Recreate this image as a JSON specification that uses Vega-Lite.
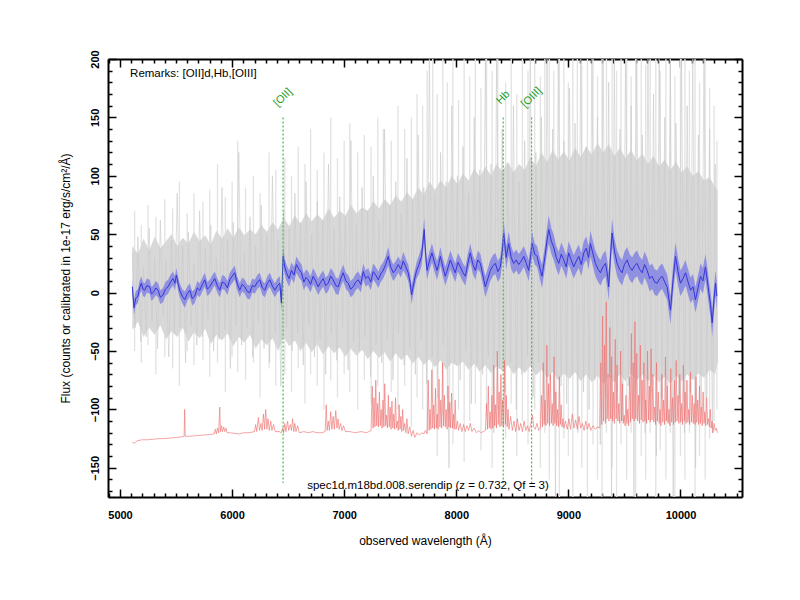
{
"$schema": "https://vega.github.io/schema/vega-lite/v6.json",
"width": 634, "height": 438,
"autosize": {"type": "none"},
"padding": {"left": 108, "top": 59, "right": 58, "bottom": 103},
"background": "white",
"config": {"view": {"stroke": null}, "font": "Liberation Sans"},
"datasets": {
"spikes": [{"w":5130,"lo":-50,"hi":70},{"w":5190,"lo":-60,"hi":58},{"w":5250,"lo":-45,"hi":75},{"w":5320,"lo":-70,"hi":65},{"w":5400,"lo":-55,"hi":80},{"w":5470,"lo":-65,"hi":72},{"w":5530,"lo":-80,"hi":95},{"w":5600,"lo":-50,"hi":68},{"w":5660,"lo":-62,"hi":85},{"w":5740,"lo":-58,"hi":78},{"w":5800,"lo":-72,"hi":88},{"w":5870,"lo":-60,"hi":110},{"w":5940,"lo":-85,"hi":82},{"w":6000,"lo":-55,"hi":95},{"w":6050,"lo":-68,"hi":130},{"w":6120,"lo":-75,"hi":90},{"w":6190,"lo":-60,"hi":100},{"w":6250,"lo":-90,"hi":85},{"w":6330,"lo":-65,"hi":120},{"w":6390,"lo":-80,"hi":105},{"w":6470,"lo":-70,"hi":115},{"w":6530,"lo":-85,"hi":100},{"w":6590,"lo":-65,"hi":125},{"w":6650,"lo":-95,"hi":110},{"w":6700,"lo":-70,"hi":140},{"w":6760,"lo":-80,"hi":105},{"w":6820,"lo":-100,"hi":120},{"w":6880,"lo":-75,"hi":150},{"w":6940,"lo":-90,"hi":115},{"w":7000,"lo":-70,"hi":130},{"w":7050,"lo":-85,"hi":145},{"w":7120,"lo":-100,"hi":120},{"w":7180,"lo":-75,"hi":135},{"w":7240,"lo":-95,"hi":125},{"w":7300,"lo":-80,"hi":150},{"w":7350,"lo":-110,"hi":140},{"w":7420,"lo":-85,"hi":130},{"w":7480,"lo":-100,"hi":160},{"w":7540,"lo":-80,"hi":140},{"w":7600,"lo":-115,"hi":150},{"w":7650,"lo":-90,"hi":170},{"w":7700,"lo":-100,"hi":160},{"w":7740,"lo":-120,"hi":190},{"w":7790,"lo":-95,"hi":200},{"w":7830,"lo":-140,"hi":170},{"w":7880,"lo":-105,"hi":200},{"w":7920,"lo":-90,"hi":180},{"w":7970,"lo":-130,"hi":200},{"w":8020,"lo":-100,"hi":165},{"w":8070,"lo":-145,"hi":200},{"w":8120,"lo":-110,"hi":185},{"w":8170,"lo":-95,"hi":200},{"w":8220,"lo":-135,"hi":175},{"w":8270,"lo":-105,"hi":200},{"w":8320,"lo":-150,"hi":190},{"w":8370,"lo":-100,"hi":200},{"w":8440,"lo":-125,"hi":180},{"w":8490,"lo":-95,"hi":200},{"w":8540,"lo":-140,"hi":170},{"w":8590,"lo":-110,"hi":200},{"w":8640,"lo":-130,"hi":190},{"w":8700,"lo":-100,"hi":200},{"w":8750,"lo":-150,"hi":185},{"w":8790,"lo":-120,"hi":200},{"w":8830,"lo":-160,"hi":200},{"w":8870,"lo":-110,"hi":190},{"w":8920,"lo":-175,"hi":200},{"w":8960,"lo":-125,"hi":200},{"w":9000,"lo":-140,"hi":180},{"w":9040,"lo":-175,"hi":200},{"w":9080,"lo":-115,"hi":200},{"w":9120,"lo":-150,"hi":195},{"w":9170,"lo":-175,"hi":200},{"w":9220,"lo":-130,"hi":200},{"w":9260,"lo":-160,"hi":185},{"w":9300,"lo":-175,"hi":200},{"w":9340,"lo":-120,"hi":200},{"w":9390,"lo":-150,"hi":200},{"w":9430,"lo":-175,"hi":190},{"w":9470,"lo":-130,"hi":200},{"w":9520,"lo":-160,"hi":200},{"w":9560,"lo":-120,"hi":185},{"w":9600,"lo":-175,"hi":200},{"w":9650,"lo":-140,"hi":200},{"w":9690,"lo":-160,"hi":195},{"w":9730,"lo":-120,"hi":200},{"w":9780,"lo":-175,"hi":200},{"w":9820,"lo":-135,"hi":190},{"w":9870,"lo":-160,"hi":200},{"w":9910,"lo":-120,"hi":200},{"w":9950,"lo":-175,"hi":185},{"w":10000,"lo":-140,"hi":200},{"w":10040,"lo":-160,"hi":200},{"w":10080,"lo":-120,"hi":190},{"w":10130,"lo":-175,"hi":200},{"w":10170,"lo":-140,"hi":180},{"w":10220,"lo":-160,"hi":200},{"w":10260,"lo":-125,"hi":175},{"w":10300,"lo":-110,"hi":160},{"w":10325,"lo":-100,"hi":130}],
"core": [{"w":5110,"lo":-32,"hi":40},{"w":5160,"lo":-25,"hi":33},{"w":5210,"lo":-38,"hi":46},{"w":5260,"lo":-30,"hi":36},{"w":5310,"lo":-36,"hi":48},{"w":5360,"lo":-28,"hi":38},{"w":5410,"lo":-40,"hi":44},{"w":5460,"lo":-33,"hi":50},{"w":5510,"lo":-38,"hi":40},{"w":5560,"lo":-30,"hi":47},{"w":5610,"lo":-42,"hi":42},{"w":5660,"lo":-34,"hi":52},{"w":5710,"lo":-39,"hi":44},{"w":5760,"lo":-31,"hi":49},{"w":5810,"lo":-44,"hi":41},{"w":5860,"lo":-36,"hi":53},{"w":5910,"lo":-41,"hi":46},{"w":5960,"lo":-35,"hi":55},{"w":6010,"lo":-46,"hi":47},{"w":6060,"lo":-38,"hi":56},{"w":6110,"lo":-43,"hi":49},{"w":6160,"lo":-36,"hi":54},{"w":6210,"lo":-48,"hi":50},{"w":6260,"lo":-40,"hi":58},{"w":6310,"lo":-45,"hi":52},{"w":6360,"lo":-39,"hi":60},{"w":6410,"lo":-50,"hi":54},{"w":6460,"lo":-38,"hi":64},{"w":6510,"lo":-46,"hi":57},{"w":6560,"lo":-41,"hi":66},{"w":6610,"lo":-50,"hi":59},{"w":6660,"lo":-43,"hi":68},{"w":6710,"lo":-51,"hi":61},{"w":6760,"lo":-44,"hi":67},{"w":6810,"lo":-53,"hi":62},{"w":6860,"lo":-46,"hi":72},{"w":6910,"lo":-52,"hi":64},{"w":6960,"lo":-47,"hi":70},{"w":7010,"lo":-55,"hi":66},{"w":7060,"lo":-48,"hi":75},{"w":7110,"lo":-54,"hi":68},{"w":7160,"lo":-49,"hi":73},{"w":7210,"lo":-57,"hi":70},{"w":7260,"lo":-50,"hi":78},{"w":7310,"lo":-56,"hi":72},{"w":7360,"lo":-51,"hi":80},{"w":7410,"lo":-59,"hi":75},{"w":7460,"lo":-52,"hi":83},{"w":7510,"lo":-58,"hi":78},{"w":7560,"lo":-53,"hi":86},{"w":7610,"lo":-61,"hi":80},{"w":7660,"lo":-55,"hi":90},{"w":7710,"lo":-62,"hi":84},{"w":7760,"lo":-57,"hi":95},{"w":7810,"lo":-64,"hi":88},{"w":7860,"lo":-58,"hi":96},{"w":7910,"lo":-66,"hi":90},{"w":7960,"lo":-60,"hi":100},{"w":8010,"lo":-63,"hi":93},{"w":8060,"lo":-59,"hi":102},{"w":8110,"lo":-66,"hi":96},{"w":8160,"lo":-61,"hi":106},{"w":8210,"lo":-68,"hi":99},{"w":8260,"lo":-62,"hi":108},{"w":8310,"lo":-69,"hi":100},{"w":8360,"lo":-63,"hi":110},{"w":8410,"lo":-67,"hi":104},{"w":8460,"lo":-62,"hi":112},{"w":8510,"lo":-70,"hi":103},{"w":8560,"lo":-64,"hi":110},{"w":8610,"lo":-69,"hi":105},{"w":8660,"lo":-63,"hi":116},{"w":8710,"lo":-71,"hi":108},{"w":8760,"lo":-66,"hi":120},{"w":8810,"lo":-73,"hi":112},{"w":8860,"lo":-68,"hi":122},{"w":8910,"lo":-75,"hi":114},{"w":8960,"lo":-69,"hi":121},{"w":9010,"lo":-74,"hi":113},{"w":9060,"lo":-68,"hi":124},{"w":9110,"lo":-76,"hi":116},{"w":9160,"lo":-70,"hi":125},{"w":9210,"lo":-77,"hi":118},{"w":9260,"lo":-71,"hi":128},{"w":9310,"lo":-78,"hi":120},{"w":9360,"lo":-72,"hi":127},{"w":9410,"lo":-77,"hi":117},{"w":9460,"lo":-70,"hi":124},{"w":9510,"lo":-76,"hi":115},{"w":9560,"lo":-69,"hi":122},{"w":9610,"lo":-75,"hi":113},{"w":9660,"lo":-70,"hi":119},{"w":9710,"lo":-76,"hi":110},{"w":9760,"lo":-71,"hi":117},{"w":9810,"lo":-77,"hi":108},{"w":9860,"lo":-72,"hi":114},{"w":9910,"lo":-78,"hi":105},{"w":9960,"lo":-71,"hi":112},{"w":10010,"lo":-76,"hi":103},{"w":10060,"lo":-70,"hi":108},{"w":10110,"lo":-75,"hi":100},{"w":10160,"lo":-69,"hi":104},{"w":10210,"lo":-73,"hi":96},{"w":10260,"lo":-66,"hi":99},{"w":10310,"lo":-70,"hi":90},{"w":10330,"lo":-60,"hi":88}],
"gray": [{"w":5110,"f":35},{"w":5135,"f":-30},{"w":5160,"f":48},{"w":5185,"f":-42},{"w":5210,"f":22},{"w":5235,"f":-38},{"w":5260,"f":55},{"w":5285,"f":-25},{"w":5310,"f":30},{"w":5335,"f":-48},{"w":5360,"f":62},{"w":5385,"f":-20},{"w":5410,"f":28},{"w":5435,"f":-55},{"w":5460,"f":45},{"w":5485,"f":-35},{"w":5510,"f":85},{"w":5535,"f":-30},{"w":5560,"f":40},{"w":5585,"f":-60},{"w":5610,"f":52},{"w":5635,"f":-28},{"w":5660,"f":25},{"w":5685,"f":-45},{"w":5710,"f":70},{"w":5735,"f":-38},{"w":5760,"f":38},{"w":5785,"f":-22},{"w":5810,"f":58},{"w":5835,"f":-50},{"w":5860,"f":30},{"w":5885,"f":-40},{"w":5910,"f":90},{"w":5935,"f":-32},{"w":5960,"f":45},{"w":5985,"f":-65},{"w":6010,"f":60},{"w":6035,"f":-28},{"w":6060,"f":120},{"w":6085,"f":-45},{"w":6110,"f":35},{"w":6135,"f":-30},{"w":6160,"f":65},{"w":6185,"f":-55},{"w":6210,"f":40},{"w":6235,"f":-25},{"w":6260,"f":75},{"w":6285,"f":-48},{"w":6310,"f":50},{"w":6335,"f":-60},{"w":6360,"f":100},{"w":6385,"f":-35},{"w":6410,"f":45},{"w":6435,"f":-80},{"w":6460,"f":70},{"w":6485,"f":-30},{"w":6510,"f":55},{"w":6535,"f":-50},{"w":6560,"f":85},{"w":6585,"f":-35},{"w":6610,"f":60},{"w":6635,"f":-62},{"w":6660,"f":95},{"w":6685,"f":-28},{"w":6710,"f":50},{"w":6735,"f":-55},{"w":6760,"f":78},{"w":6785,"f":-40},{"w":6810,"f":62},{"w":6835,"f":-70},{"w":6860,"f":110},{"w":6885,"f":-35},{"w":6910,"f":55},{"w":6935,"f":-58},{"w":6960,"f":82},{"w":6985,"f":-30},{"w":7010,"f":65},{"w":7035,"f":-66},{"w":7060,"f":130},{"w":7085,"f":-42},{"w":7110,"f":58},{"w":7135,"f":-50},{"w":7160,"f":90},{"w":7185,"f":-38},{"w":7210,"f":70},{"w":7235,"f":-72},{"w":7260,"f":100},{"w":7285,"f":-45},{"w":7310,"f":60},{"w":7335,"f":-60},{"w":7360,"f":140},{"w":7385,"f":-40},{"w":7410,"f":75},{"w":7435,"f":-75},{"w":7460,"f":95},{"w":7485,"f":-35},{"w":7510,"f":68},{"w":7535,"f":-62},{"w":7560,"f":115},{"w":7585,"f":-48},{"w":7610,"f":80},{"w":7635,"f":-70},{"w":7660,"f":135},{"w":7685,"f":-40},{"w":7710,"f":90},{"w":7735,"f":-78},{"w":7760,"f":200},{"w":7785,"f":-55},{"w":7810,"f":85},{"w":7835,"f":-90},{"w":7860,"f":120},{"w":7885,"f":-45},{"w":7910,"f":95},{"w":7935,"f":-150},{"w":7960,"f":160},{"w":7985,"f":-60},{"w":8010,"f":100},{"w":8035,"f":-75},{"w":8060,"f":125},{"w":8085,"f":-50},{"w":8110,"f":85},{"w":8135,"f":-95},{"w":8160,"f":150},{"w":8185,"f":-62},{"w":8210,"f":105},{"w":8235,"f":-70},{"w":8260,"f":200},{"w":8285,"f":-55},{"w":8310,"f":110},{"w":8335,"f":-120},{"w":8360,"f":200},{"w":8385,"f":-65},{"w":8410,"f":140},{"w":8435,"f":-85},{"w":8460,"f":110},{"w":8485,"f":-60},{"w":8510,"f":160},{"w":8535,"f":-100},{"w":8560,"f":95},{"w":8585,"f":-70},{"w":8610,"f":130},{"w":8635,"f":-55},{"w":8660,"f":200},{"w":8685,"f":-90},{"w":8710,"f":120},{"w":8735,"f":-60},{"w":8760,"f":150},{"w":8785,"f":-110},{"w":8810,"f":200},{"w":8835,"f":-75},{"w":8860,"f":140},{"w":8885,"f":-175},{"w":8910,"f":200},{"w":8935,"f":-80},{"w":8960,"f":130},{"w":8985,"f":-95},{"w":9010,"f":175},{"w":9035,"f":-70},{"w":9060,"f":145},{"w":9085,"f":-120},{"w":9110,"f":200},{"w":9135,"f":-85},{"w":9160,"f":125},{"w":9185,"f":-100},{"w":9210,"f":200},{"w":9235,"f":-75},{"w":9260,"f":150},{"w":9285,"f":-130},{"w":9310,"f":200},{"w":9335,"f":-90},{"w":9360,"f":180},{"w":9385,"f":-175},{"w":9410,"f":200},{"w":9435,"f":-85},{"w":9460,"f":140},{"w":9485,"f":-110},{"w":9510,"f":200},{"w":9535,"f":-80},{"w":9560,"f":160},{"w":9585,"f":-175},{"w":9610,"f":200},{"w":9635,"f":-95},{"w":9660,"f":135},{"w":9685,"f":-120},{"w":9710,"f":200},{"w":9735,"f":-85},{"w":9760,"f":170},{"w":9785,"f":-140},{"w":9810,"f":200},{"w":9835,"f":-90},{"w":9860,"f":150},{"w":9885,"f":-110},{"w":9910,"f":200},{"w":9935,"f":-175},{"w":9960,"f":145},{"w":9985,"f":-95},{"w":10010,"f":200},{"w":10035,"f":-120},{"w":10060,"f":160},{"w":10085,"f":-85},{"w":10110,"f":200},{"w":10135,"f":-150},{"w":10160,"f":135},{"w":10185,"f":-100},{"w":10210,"f":200},{"w":10235,"f":-90},{"w":10260,"f":140},{"w":10285,"f":-120},{"w":10310,"f":110},{"w":10330,"f":-60}],
"blue": [{"w":5110,"f":5,"lo":-2,"hi":11},{"w":5125,"f":-13,"lo":-19,"hi":-6},{"w":5140,"f":-5,"lo":-11,"hi":1},{"w":5160,"f":-3,"lo":-9,"hi":3},{"w":5175,"f":4,"lo":-2,"hi":10},{"w":5190,"f":8,"lo":2,"hi":14},{"w":5205,"f":3,"lo":-3,"hi":9},{"w":5220,"f":2,"lo":-4,"hi":8},{"w":5240,"f":6,"lo":0,"hi":12},{"w":5265,"f":5,"lo":-1,"hi":11},{"w":5280,"f":-1,"lo":-7,"hi":5},{"w":5295,"f":0,"lo":-6,"hi":6},{"w":5320,"f":4,"lo":-2,"hi":10},{"w":5340,"f":2,"lo":-4,"hi":8},{"w":5360,"f":-4,"lo":-10,"hi":2},{"w":5384,"f":-2,"lo":-8,"hi":4},{"w":5405,"f":3,"lo":-3,"hi":9},{"w":5429,"f":5,"lo":-1,"hi":11},{"w":5450,"f":9,"lo":3,"hi":15},{"w":5473,"f":12,"lo":6,"hi":18},{"w":5490,"f":8,"lo":2,"hi":14},{"w":5503,"f":15,"lo":9,"hi":21},{"w":5520,"f":7,"lo":1,"hi":13},{"w":5533,"f":2,"lo":-4,"hi":8},{"w":5555,"f":-3,"lo":-9,"hi":3},{"w":5578,"f":-6,"lo":-13,"hi":1},{"w":5600,"f":-1,"lo":-7,"hi":5},{"w":5622,"f":2,"lo":-4,"hi":8},{"w":5645,"f":-5,"lo":-11,"hi":1},{"w":5667,"f":-3,"lo":-9,"hi":3},{"w":5690,"f":4,"lo":-2,"hi":10},{"w":5711,"f":2,"lo":-4,"hi":8},{"w":5735,"f":7,"lo":1,"hi":13},{"w":5756,"f":11,"lo":5,"hi":17},{"w":5780,"f":3,"lo":-3,"hi":9},{"w":5801,"f":5,"lo":-1,"hi":11},{"w":5825,"f":9,"lo":3,"hi":15},{"w":5845,"f":12,"lo":6,"hi":18},{"w":5868,"f":6,"lo":0,"hi":12},{"w":5890,"f":2,"lo":-4,"hi":8},{"w":5912,"f":9,"lo":3,"hi":15},{"w":5935,"f":8,"lo":2,"hi":14},{"w":5958,"f":4,"lo":-2,"hi":10},{"w":5979,"f":11,"lo":5,"hi":17},{"w":6000,"f":14,"lo":8,"hi":20},{"w":6024,"f":17,"lo":11,"hi":23},{"w":6045,"f":8,"lo":2,"hi":14},{"w":6068,"f":2,"lo":-4,"hi":8},{"w":6090,"f":7,"lo":1,"hi":13},{"w":6113,"f":5,"lo":-1,"hi":11},{"w":6135,"f":1,"lo":-5,"hi":7},{"w":6158,"f":0,"lo":-6,"hi":6},{"w":6180,"f":6,"lo":0,"hi":12},{"w":6202,"f":5,"lo":-1,"hi":11},{"w":6225,"f":9,"lo":3,"hi":15},{"w":6247,"f":11,"lo":5,"hi":17},{"w":6270,"f":4,"lo":-2,"hi":10},{"w":6292,"f":2,"lo":-4,"hi":8},{"w":6315,"f":8,"lo":2,"hi":14},{"w":6336,"f":11,"lo":5,"hi":17},{"w":6358,"f":6,"lo":0,"hi":12},{"w":6381,"f":2,"lo":-4,"hi":8},{"w":6405,"f":6,"lo":0,"hi":12},{"w":6426,"f":8,"lo":2,"hi":14},{"w":6440,"f":-9,"lo":-16,"hi":-2},{"w":6455,"f":31,"lo":23,"hi":39},{"w":6470,"f":22,"lo":15,"hi":29},{"w":6485,"f":17,"lo":10,"hi":24},{"w":6508,"f":12,"lo":5,"hi":19},{"w":6530,"f":19,"lo":12,"hi":26},{"w":6552,"f":15,"lo":8,"hi":22},{"w":6574,"f":24,"lo":17,"hi":31},{"w":6596,"f":20,"lo":13,"hi":27},{"w":6619,"f":17,"lo":10,"hi":24},{"w":6640,"f":9,"lo":2,"hi":16},{"w":6660,"f":13,"lo":6,"hi":20},{"w":6679,"f":11,"lo":4,"hi":18},{"w":6700,"f":7,"lo":0,"hi":14},{"w":6723,"f":14,"lo":7,"hi":21},{"w":6745,"f":10,"lo":3,"hi":17},{"w":6768,"f":5,"lo":-2,"hi":12},{"w":6790,"f":9,"lo":2,"hi":16},{"w":6813,"f":12,"lo":5,"hi":19},{"w":6835,"f":6,"lo":-1,"hi":13},{"w":6857,"f":8,"lo":1,"hi":15},{"w":6880,"f":14,"lo":7,"hi":21},{"w":6902,"f":11,"lo":4,"hi":18},{"w":6925,"f":6,"lo":-1,"hi":13},{"w":6947,"f":5,"lo":-2,"hi":12},{"w":6970,"f":12,"lo":5,"hi":19},{"w":6991,"f":17,"lo":10,"hi":24},{"w":7015,"f":10,"lo":3,"hi":17},{"w":7036,"f":8,"lo":1,"hi":15},{"w":7058,"f":3,"lo":-4,"hi":10},{"w":7080,"f":5,"lo":-2,"hi":12},{"w":7103,"f":9,"lo":2,"hi":16},{"w":7125,"f":11,"lo":4,"hi":18},{"w":7148,"f":7,"lo":0,"hi":14},{"w":7170,"f":18,"lo":11,"hi":25},{"w":7192,"f":12,"lo":5,"hi":19},{"w":7214,"f":14,"lo":7,"hi":21},{"w":7237,"f":9,"lo":2,"hi":16},{"w":7259,"f":18,"lo":11,"hi":25},{"w":7282,"f":15,"lo":8,"hi":22},{"w":7304,"f":11,"lo":4,"hi":18},{"w":7326,"f":16,"lo":9,"hi":23},{"w":7348,"f":19,"lo":12,"hi":26},{"w":7370,"f":24,"lo":17,"hi":31},{"w":7393,"f":31,"lo":23,"hi":39},{"w":7415,"f":22,"lo":15,"hi":29},{"w":7438,"f":17,"lo":10,"hi":24},{"w":7460,"f":20,"lo":13,"hi":27},{"w":7482,"f":24,"lo":17,"hi":31},{"w":7505,"f":20,"lo":13,"hi":27},{"w":7527,"f":27,"lo":19,"hi":35},{"w":7550,"f":22,"lo":15,"hi":29},{"w":7571,"f":17,"lo":10,"hi":24},{"w":7590,"f":8,"lo":1,"hi":15},{"w":7601,"f":-2,"lo":-10,"hi":6},{"w":7625,"f":10,"lo":3,"hi":17},{"w":7646,"f":19,"lo":12,"hi":26},{"w":7668,"f":24,"lo":16,"hi":32},{"w":7690,"f":31,"lo":23,"hi":39},{"w":7714,"f":54,"lo":44,"hi":64},{"w":7725,"f":35,"lo":26,"hi":44},{"w":7739,"f":19,"lo":11,"hi":27},{"w":7760,"f":27,"lo":19,"hi":35},{"w":7783,"f":34,"lo":26,"hi":42},{"w":7805,"f":26,"lo":18,"hi":34},{"w":7828,"f":19,"lo":11,"hi":27},{"w":7845,"f":25,"lo":17,"hi":33},{"w":7858,"f":31,"lo":23,"hi":39},{"w":7880,"f":22,"lo":14,"hi":30},{"w":7902,"f":14,"lo":6,"hi":22},{"w":7925,"f":21,"lo":13,"hi":29},{"w":7947,"f":28,"lo":20,"hi":36},{"w":7970,"f":22,"lo":14,"hi":30},{"w":7991,"f":17,"lo":9,"hi":25},{"w":8015,"f":26,"lo":18,"hi":34},{"w":8036,"f":22,"lo":14,"hi":30},{"w":8060,"f":17,"lo":9,"hi":25},{"w":8081,"f":14,"lo":6,"hi":22},{"w":8103,"f":25,"lo":17,"hi":33},{"w":8125,"f":34,"lo":26,"hi":42},{"w":8148,"f":24,"lo":16,"hi":32},{"w":8170,"f":19,"lo":11,"hi":27},{"w":8192,"f":28,"lo":20,"hi":36},{"w":8215,"f":25,"lo":17,"hi":33},{"w":8237,"f":15,"lo":7,"hi":23},{"w":8259,"f":5,"lo":-4,"hi":14},{"w":8282,"f":12,"lo":3,"hi":21},{"w":8304,"f":19,"lo":10,"hi":28},{"w":8326,"f":23,"lo":14,"hi":32},{"w":8349,"f":25,"lo":16,"hi":34},{"w":8371,"f":18,"lo":9,"hi":27},{"w":8393,"f":22,"lo":13,"hi":31},{"w":8410,"f":35,"lo":25,"hi":45},{"w":8423,"f":51,"lo":40,"hi":62},{"w":8445,"f":30,"lo":20,"hi":40},{"w":8468,"f":42,"lo":32,"hi":52},{"w":8490,"f":30,"lo":20,"hi":40},{"w":8512,"f":25,"lo":16,"hi":34},{"w":8535,"f":28,"lo":19,"hi":37},{"w":8557,"f":24,"lo":15,"hi":33},{"w":8580,"f":27,"lo":18,"hi":36},{"w":8602,"f":31,"lo":22,"hi":40},{"w":8625,"f":25,"lo":16,"hi":34},{"w":8646,"f":19,"lo":10,"hi":28},{"w":8662,"f":30,"lo":21,"hi":39},{"w":8676,"f":42,"lo":32,"hi":52},{"w":8700,"f":33,"lo":24,"hi":42},{"w":8721,"f":31,"lo":22,"hi":40},{"w":8743,"f":22,"lo":13,"hi":31},{"w":8765,"f":14,"lo":4,"hi":24},{"w":8790,"f":30,"lo":20,"hi":40},{"w":8810,"f":45,"lo":34,"hi":56},{"w":8825,"f":54,"lo":42,"hi":66},{"w":8848,"f":44,"lo":33,"hi":55},{"w":8869,"f":39,"lo":28,"hi":50},{"w":8892,"f":30,"lo":20,"hi":40},{"w":8914,"f":25,"lo":15,"hi":35},{"w":8937,"f":33,"lo":23,"hi":43},{"w":8959,"f":28,"lo":18,"hi":38},{"w":8981,"f":22,"lo":12,"hi":32},{"w":9003,"f":34,"lo":24,"hi":44},{"w":9025,"f":28,"lo":18,"hi":38},{"w":9048,"f":22,"lo":12,"hi":32},{"w":9070,"f":27,"lo":17,"hi":37},{"w":9093,"f":31,"lo":21,"hi":41},{"w":9115,"f":24,"lo":14,"hi":34},{"w":9137,"f":34,"lo":24,"hi":44},{"w":9160,"f":38,"lo":28,"hi":48},{"w":9180,"f":30,"lo":20,"hi":40},{"w":9197,"f":42,"lo":31,"hi":53},{"w":9220,"f":33,"lo":22,"hi":44},{"w":9241,"f":25,"lo":14,"hi":36},{"w":9265,"f":20,"lo":9,"hi":31},{"w":9286,"f":17,"lo":6,"hi":28},{"w":9308,"f":22,"lo":11,"hi":33},{"w":9331,"f":25,"lo":14,"hi":36},{"w":9350,"f":14,"lo":2,"hi":26},{"w":9360,"f":5,"lo":-7,"hi":17},{"w":9375,"f":30,"lo":18,"hi":42},{"w":9390,"f":51,"lo":39,"hi":63},{"w":9412,"f":35,"lo":24,"hi":46},{"w":9435,"f":25,"lo":14,"hi":36},{"w":9457,"f":20,"lo":9,"hi":31},{"w":9479,"f":17,"lo":6,"hi":28},{"w":9500,"f":24,"lo":13,"hi":35},{"w":9524,"f":28,"lo":17,"hi":39},{"w":9546,"f":22,"lo":11,"hi":33},{"w":9569,"f":19,"lo":8,"hi":30},{"w":9590,"f":23,"lo":12,"hi":34},{"w":9613,"f":25,"lo":14,"hi":36},{"w":9635,"f":20,"lo":9,"hi":31},{"w":9658,"f":17,"lo":6,"hi":28},{"w":9680,"f":24,"lo":13,"hi":35},{"w":9703,"f":19,"lo":8,"hi":30},{"w":9725,"f":12,"lo":1,"hi":23},{"w":9747,"f":14,"lo":3,"hi":25},{"w":9770,"f":9,"lo":-2,"hi":20},{"w":9792,"f":8,"lo":-3,"hi":19},{"w":9815,"f":12,"lo":1,"hi":23},{"w":9837,"f":14,"lo":3,"hi":25},{"w":9860,"f":9,"lo":-2,"hi":20},{"w":9881,"f":5,"lo":-6,"hi":16},{"w":9911,"f":-15,"lo":-27,"hi":-3},{"w":9935,"f":12,"lo":0,"hi":24},{"w":9956,"f":31,"lo":19,"hi":43},{"w":9978,"f":18,"lo":6,"hi":30},{"w":10000,"f":8,"lo":-3,"hi":19},{"w":10023,"f":12,"lo":1,"hi":23},{"w":10045,"f":17,"lo":6,"hi":28},{"w":10068,"f":9,"lo":-2,"hi":20},{"w":10090,"f":2,"lo":-9,"hi":13},{"w":10112,"f":5,"lo":-6,"hi":16},{"w":10134,"f":-6,"lo":-17,"hi":5},{"w":10157,"f":4,"lo":-7,"hi":15},{"w":10179,"f":14,"lo":3,"hi":25},{"w":10200,"f":10,"lo":-1,"hi":21},{"w":10223,"f":22,"lo":11,"hi":33},{"w":10240,"f":10,"lo":-1,"hi":21},{"w":10253,"f":0,"lo":-11,"hi":11},{"w":10268,"f":-10,"lo":-21,"hi":1},{"w":10283,"f":-26,"lo":-38,"hi":-14},{"w":10300,"f":-5,"lo":-16,"hi":6},{"w":10313,"f":8,"lo":-3,"hi":19},{"w":10325,"f":-3,"lo":-14,"hi":8}],
"red": [{"w":5110,"f":-128},{"w":5130,"f":-129},{"w":5150,"f":-127},{"w":5170,"f":-126.5},{"w":5200,"f":-126},{"w":5250,"f":-126},{"w":5300,"f":-125.5},{"w":5350,"f":-125},{"w":5400,"f":-125},{"w":5450,"f":-124.5},{"w":5500,"f":-124},{"w":5550,"f":-123.5},{"w":5572,"f":-123},{"w":5577,"f":-100},{"w":5582,"f":-123},{"w":5620,"f":-123},{"w":5680,"f":-122.5},{"w":5740,"f":-122},{"w":5800,"f":-121.5},{"w":5840,"f":-121},{"w":5850,"f":-117},{"w":5860,"f":-121},{"w":5870,"f":-116},{"w":5880,"f":-120},{"w":5890,"f":-98},{"w":5896,"f":-119},{"w":5905,"f":-114},{"w":5915,"f":-119},{"w":5925,"f":-115},{"w":5935,"f":-119},{"w":5945,"f":-116},{"w":5955,"f":-120},{"w":5980,"f":-120},{"w":6020,"f":-120.5},{"w":6060,"f":-121},{"w":6100,"f":-120},{"w":6150,"f":-120},{"w":6200,"f":-119},{"w":6210,"f":-113},{"w":6220,"f":-119},{"w":6235,"f":-107},{"w":6245,"f":-118},{"w":6258,"f":-112},{"w":6268,"f":-118},{"w":6280,"f":-104},{"w":6290,"f":-117},{"w":6300,"f":-100},{"w":6310,"f":-117},{"w":6320,"f":-108},{"w":6332,"f":-118},{"w":6345,"f":-110},{"w":6355,"f":-118},{"w":6370,"f":-113},{"w":6385,"f":-119},{"w":6420,"f":-119},{"w":6440,"f":-120},{"w":6450,"f":-116},{"w":6460,"f":-120},{"w":6470,"f":-112},{"w":6480,"f":-119},{"w":6495,"f":-110},{"w":6505,"f":-118},{"w":6520,"f":-113},{"w":6530,"f":-118},{"w":6540,"f":-108},{"w":6550,"f":-119},{"w":6560,"f":-112},{"w":6570,"f":-119},{"w":6585,"f":-114},{"w":6600,"f":-120},{"w":6640,"f":-119},{"w":6680,"f":-120},{"w":6720,"f":-119},{"w":6760,"f":-120},{"w":6800,"f":-120},{"w":6830,"f":-119},{"w":6840,"f":-96},{"w":6848,"f":-118},{"w":6858,"f":-110},{"w":6868,"f":-118},{"w":6880,"f":-102},{"w":6890,"f":-117},{"w":6902,"f":-106},{"w":6912,"f":-117},{"w":6925,"f":-101},{"w":6935,"f":-116},{"w":6945,"f":-108},{"w":6955,"f":-117},{"w":6968,"f":-112},{"w":6980,"f":-118},{"w":6995,"f":-114},{"w":7010,"f":-119},{"w":7050,"f":-119},{"w":7100,"f":-120},{"w":7150,"f":-119},{"w":7200,"f":-120},{"w":7240,"f":-118},{"w":7250,"f":-80},{"w":7258,"f":-116},{"w":7266,"f":-90},{"w":7274,"f":-115},{"w":7282,"f":-75},{"w":7290,"f":-114},{"w":7298,"f":-95},{"w":7306,"f":-115},{"w":7314,"f":-85},{"w":7322,"f":-114},{"w":7330,"f":-100},{"w":7338,"f":-116},{"w":7346,"f":-92},{"w":7354,"f":-115},{"w":7362,"f":-78},{"w":7370,"f":-114},{"w":7378,"f":-105},{"w":7386,"f":-116},{"w":7394,"f":-88},{"w":7402,"f":-115},{"w":7410,"f":-98},{"w":7418,"f":-117},{"w":7426,"f":-93},{"w":7434,"f":-116},{"w":7442,"f":-104},{"w":7450,"f":-117},{"w":7458,"f":-90},{"w":7466,"f":-116},{"w":7474,"f":-110},{"w":7482,"f":-118},{"w":7490,"f":-96},{"w":7498,"f":-117},{"w":7506,"f":-106},{"w":7514,"f":-119},{"w":7522,"f":-100},{"w":7530,"f":-118},{"w":7540,"f":-112},{"w":7550,"f":-120},{"w":7560,"f":-108},{"w":7570,"f":-121},{"w":7585,"f":-115},{"w":7600,"f":-123},{"w":7615,"f":-118},{"w":7630,"f":-124},{"w":7650,"f":-120},{"w":7670,"f":-122},{"w":7690,"f":-120},{"w":7710,"f":-121},{"w":7725,"f":-118},{"w":7740,"f":-121},{"w":7750,"f":-75},{"w":7758,"f":-118},{"w":7766,"f":-100},{"w":7774,"f":-117},{"w":7782,"f":-66},{"w":7790,"f":-116},{"w":7798,"f":-96},{"w":7806,"f":-117},{"w":7814,"f":-82},{"w":7822,"f":-116},{"w":7830,"f":-104},{"w":7838,"f":-117},{"w":7846,"f":-74},{"w":7854,"f":-115},{"w":7862,"f":-92},{"w":7870,"f":-116},{"w":7878,"f":-60},{"w":7886,"f":-114},{"w":7894,"f":-88},{"w":7902,"f":-115},{"w":7910,"f":-100},{"w":7918,"f":-117},{"w":7926,"f":-80},{"w":7934,"f":-115},{"w":7942,"f":-94},{"w":7950,"f":-116},{"w":7958,"f":-86},{"w":7966,"f":-116},{"w":7974,"f":-104},{"w":7982,"f":-117},{"w":7990,"f":-92},{"w":7998,"f":-117},{"w":8010,"f":-110},{"w":8020,"f":-118},{"w":8035,"f":-112},{"w":8050,"f":-119},{"w":8065,"f":-113},{"w":8080,"f":-119},{"w":8095,"f":-114},{"w":8110,"f":-118},{"w":8125,"f":-112},{"w":8140,"f":-119},{"w":8160,"f":-116},{"w":8180,"f":-120},{"w":8200,"f":-118},{"w":8220,"f":-120},{"w":8240,"f":-119},{"w":8260,"f":-118},{"w":8270,"f":-95},{"w":8278,"f":-117},{"w":8286,"f":-80},{"w":8294,"f":-116},{"w":8302,"f":-102},{"w":8310,"f":-117},{"w":8318,"f":-88},{"w":8326,"f":-116},{"w":8334,"f":-62},{"w":8342,"f":-114},{"w":8350,"f":-96},{"w":8358,"f":-116},{"w":8366,"f":-50},{"w":8374,"f":-113},{"w":8382,"f":-85},{"w":8390,"f":-115},{"w":8398,"f":-70},{"w":8406,"f":-114},{"w":8414,"f":-92},{"w":8422,"f":-115},{"w":8430,"f":-58},{"w":8438,"f":-113},{"w":8446,"f":-88},{"w":8454,"f":-115},{"w":8462,"f":-100},{"w":8470,"f":-117},{"w":8485,"f":-106},{"w":8500,"f":-118},{"w":8515,"f":-110},{"w":8530,"f":-119},{"w":8545,"f":-108},{"w":8560,"f":-118},{"w":8575,"f":-112},{"w":8590,"f":-119},{"w":8605,"f":-110},{"w":8620,"f":-118},{"w":8635,"f":-114},{"w":8650,"f":-119},{"w":8665,"f":-112},{"w":8680,"f":-105},{"w":8690,"f":-115},{"w":8705,"f":-117},{"w":8720,"f":-112},{"w":8735,"f":-118},{"w":8750,"f":-116},{"w":8760,"f":-88},{"w":8768,"f":-115},{"w":8776,"f":-60},{"w":8784,"f":-113},{"w":8792,"f":-92},{"w":8800,"f":-114},{"w":8808,"f":-45},{"w":8816,"f":-112},{"w":8824,"f":-78},{"w":8832,"f":-114},{"w":8840,"f":-70},{"w":8848,"f":-112},{"w":8856,"f":-95},{"w":8864,"f":-114},{"w":8872,"f":-55},{"w":8880,"f":-112},{"w":8888,"f":-85},{"w":8896,"f":-114},{"w":8904,"f":-100},{"w":8912,"f":-115},{"w":8920,"f":-72},{"w":8928,"f":-113},{"w":8936,"f":-96},{"w":8944,"f":-115},{"w":8952,"f":-108},{"w":8960,"f":-116},{"w":8975,"f":-110},{"w":8990,"f":-117},{"w":9005,"f":-108},{"w":9020,"f":-117},{"w":9035,"f":-104},{"w":9050,"f":-116},{"w":9065,"f":-109},{"w":9080,"f":-117},{"w":9095,"f":-106},{"w":9110,"f":-116},{"w":9125,"f":-112},{"w":9140,"f":-118},{"w":9155,"f":-110},{"w":9170,"f":-117},{"w":9185,"f":-112},{"w":9200,"f":-118},{"w":9220,"f":-114},{"w":9240,"f":-117},{"w":9260,"f":-115},{"w":9280,"f":-116},{"w":9290,"f":-60},{"w":9298,"f":-113},{"w":9306,"f":-20},{"w":9314,"f":-110},{"w":9322,"f":-45},{"w":9330,"f":-112},{"w":9338,"f":-8},{"w":9346,"f":-108},{"w":9354,"f":-70},{"w":9362,"f":-110},{"w":9370,"f":-30},{"w":9378,"f":-108},{"w":9386,"f":-55},{"w":9394,"f":-110},{"w":9402,"f":-85},{"w":9410,"f":-112},{"w":9418,"f":-40},{"w":9426,"f":-108},{"w":9434,"f":-62},{"w":9442,"f":-110},{"w":9450,"f":-95},{"w":9458,"f":-112},{"w":9466,"f":-50},{"w":9474,"f":-110},{"w":9482,"f":-78},{"w":9490,"f":-112},{"w":9498,"f":-105},{"w":9506,"f":-114},{"w":9514,"f":-88},{"w":9522,"f":-112},{"w":9530,"f":-100},{"w":9538,"f":-114},{"w":9546,"f":-72},{"w":9554,"f":-111},{"w":9562,"f":-35},{"w":9570,"f":-108},{"w":9578,"f":-60},{"w":9586,"f":-110},{"w":9594,"f":-25},{"w":9602,"f":-108},{"w":9610,"f":-52},{"w":9618,"f":-110},{"w":9626,"f":-88},{"w":9634,"f":-112},{"w":9642,"f":-45},{"w":9650,"f":-109},{"w":9658,"f":-75},{"w":9666,"f":-111},{"w":9674,"f":-60},{"w":9682,"f":-110},{"w":9690,"f":-92},{"w":9698,"f":-112},{"w":9706,"f":-50},{"w":9714,"f":-109},{"w":9722,"f":-80},{"w":9730,"f":-111},{"w":9738,"f":-48},{"w":9746,"f":-109},{"w":9754,"f":-70},{"w":9762,"f":-111},{"w":9770,"f":-98},{"w":9778,"f":-113},{"w":9786,"f":-60},{"w":9794,"f":-110},{"w":9802,"f":-85},{"w":9810,"f":-112},{"w":9818,"f":-100},{"w":9826,"f":-114},{"w":9834,"f":-70},{"w":9842,"f":-111},{"w":9850,"f":-92},{"w":9858,"f":-113},{"w":9866,"f":-55},{"w":9874,"f":-110},{"w":9882,"f":-80},{"w":9890,"f":-112},{"w":9898,"f":-100},{"w":9906,"f":-114},{"w":9914,"f":-65},{"w":9922,"f":-111},{"w":9930,"f":-90},{"w":9938,"f":-113},{"w":9946,"f":-75},{"w":9954,"f":-111},{"w":9962,"f":-58},{"w":9970,"f":-110},{"w":9978,"f":-88},{"w":9986,"f":-112},{"w":9994,"f":-70},{"w":10002,"f":-111},{"w":10010,"f":-95},{"w":10018,"f":-113},{"w":10026,"f":-62},{"w":10034,"f":-110},{"w":10042,"f":-85},{"w":10050,"f":-112},{"w":10058,"f":-75},{"w":10066,"f":-111},{"w":10074,"f":-100},{"w":10082,"f":-113},{"w":10090,"f":-68},{"w":10098,"f":-111},{"w":10106,"f":-88},{"w":10114,"f":-112},{"w":10122,"f":-95},{"w":10130,"f":-113},{"w":10138,"f":-72},{"w":10146,"f":-111},{"w":10154,"f":-92},{"w":10162,"f":-113},{"w":10170,"f":-80},{"w":10178,"f":-112},{"w":10186,"f":-98},{"w":10194,"f":-114},{"w":10202,"f":-85},{"w":10210,"f":-112},{"w":10218,"f":-102},{"w":10226,"f":-114},{"w":10234,"f":-90},{"w":10242,"f":-113},{"w":10250,"f":-108},{"w":10258,"f":-115},{"w":10266,"f":-100},{"w":10274,"f":-116},{"w":10282,"f":-110},{"w":10290,"f":-120},{"w":10300,"f":-112},{"w":10310,"f":-118},{"w":10320,"f":-116},{"w":10330,"f":-120}],
"lines": [{"w":6455,"label":"[OII]"},{"w":8419,"label":"Hb"},{"w":8672,"label":"[OIII]"}]
},
"resolve": {"axis": {"x": "independent", "y": "independent"}},
"layer": [
{"data": {"name": "spikes"}, "mark": {"type": "rule", "color": "#e2e2e2", "strokeWidth": 1.3},
 "encoding": {
  "x": {"field": "w", "type": "quantitative", "scale": {"domain": [4893, 10549], "nice": false, "zero": false},
   "axis": {"orient": "bottom", "title": "observed wavelength (Å)", "values": [4900,5000,5100,5200,5300,5400,5500,5600,5700,5800,5900,6000,6100,6200,6300,6400,6500,6600,6700,6800,6900,7000,7100,7200,7300,7400,7500,7600,7700,7800,7900,8000,8100,8200,8300,8400,8500,8600,8700,8800,8900,9000,9100,9200,9300,9400,9500,9600,9700,9800,9900,10000,10100,10200,10300,10400,10500],
    "format": "d", "labelExpr": "datum.value % 1000 === 0 ? datum.label : ''", "labelOverlap": false, "labelFlush": false,
    "labelFont": "Liberation Sans", "labelFontWeight": "bold", "labelFontSize": 11, "labelColor": "black", "labelPadding": 20,
    "tickSize": {"condition": {"test": "datum.value % 1000 === 0", "value": -8}, "value": -4}, "tickColor": "black", "tickWidth": 1.5,
    "domainColor": "black", "domainWidth": 2, "grid": false,
    "titleFont": "Liberation Sans", "titleFontWeight": "normal", "titleFontSize": 12, "titleColor": "black", "titleX": 317, "titleY": 43, "titleBaseline": "middle"}},
  "y": {"field": "lo", "type": "quantitative", "scale": {"domain": [-175, 200], "nice": false, "zero": false},
   "axis": {"orient": "left", "title": "Flux (counts or calibrated in 1e-17 erg/s/cm²/Å)", "values": [-170,-160,-150,-140,-130,-120,-110,-100,-90,-80,-70,-60,-50,-40,-30,-20,-10,0,10,20,30,40,50,60,70,80,90,100,110,120,130,140,150,160,170,180,190,200],
    "labelExpr": "datum.value % 50 === 0 ? datum.label : ''", "labelOverlap": false, "labelFlush": false, "labelAngle": -90, "labelAlign": "center", "labelBaseline": "bottom",
    "labelFont": "Liberation Sans", "labelFontWeight": "bold", "labelFontSize": 11, "labelColor": "black", "labelPadding": 16,
    "tickSize": {"condition": {"test": "datum.value % 50 === 0", "value": -8}, "value": -4}, "tickColor": "black", "tickWidth": 1.5,
    "domainColor": "black", "domainWidth": 2, "grid": false,
    "titleFont": "Liberation Sans", "titleFontWeight": "normal", "titleFontSize": 12, "titleColor": "black", "titleX": -43, "titleY": 219, "titleBaseline": "middle", "titleAlign": "center", "titleAngle": -90}},
  "y2": {"field": "hi"}
 }},
{"data": {"name": "core"}, "mark": {"type": "area", "color": "#d8d8d8", "opacity": 1},
 "encoding": {"x": {"field": "w", "type": "quantitative", "axis": null}, "y": {"field": "lo", "type": "quantitative", "axis": null}, "y2": {"field": "hi"}}},
{"data": {"name": "gray"}, "mark": {"type": "line", "color": "#cbcbcb", "strokeWidth": 0.7, "opacity": 0.9, "clip": true},
 "encoding": {
  "x": {"field": "w", "type": "quantitative",
   "axis": {"orient": "top", "title": null, "values": [4900,5000,5100,5200,5300,5400,5500,5600,5700,5800,5900,6000,6100,6200,6300,6400,6500,6600,6700,6800,6900,7000,7100,7200,7300,7400,7500,7600,7700,7800,7900,8000,8100,8200,8300,8400,8500,8600,8700,8800,8900,9000,9100,9200,9300,9400,9500,9600,9700,9800,9900,10000,10100,10200,10300,10400,10500],
    "labels": false, "tickSize": {"condition": {"test": "datum.value % 1000 === 0", "value": -8}, "value": -4}, "tickColor": "black", "tickWidth": 1.5, "domainColor": "black", "domainWidth": 2, "grid": false}},
  "y": {"field": "f", "type": "quantitative",
   "axis": {"orient": "right", "title": null, "values": [-170,-160,-150,-140,-130,-120,-110,-100,-90,-80,-70,-60,-50,-40,-30,-20,-10,0,10,20,30,40,50,60,70,80,90,100,110,120,130,140,150,160,170,180,190,200],
    "labels": false, "tickSize": {"condition": {"test": "datum.value % 50 === 0", "value": -8}, "value": -4}, "tickColor": "black", "tickWidth": 1.5, "domainColor": "black", "domainWidth": 2, "grid": false}}
 }},
{"data": {"name": "red"}, "mark": {"type": "line", "color": "#f07070", "strokeWidth": 0.8, "opacity": 0.8, "clip": true},
 "encoding": {"x": {"field": "w", "type": "quantitative", "axis": null}, "y": {"field": "f", "type": "quantitative", "axis": null}}},
{"data": {"name": "blue"}, "mark": {"type": "area", "color": "#7a7ae6", "opacity": 0.75},
 "encoding": {"x": {"field": "w", "type": "quantitative", "axis": null}, "y": {"field": "lo", "type": "quantitative", "axis": null}, "y2": {"field": "hi"}}},
{"data": {"name": "blue"}, "mark": {"type": "line", "color": "#3535d8", "strokeWidth": 1},
 "encoding": {"x": {"field": "w", "type": "quantitative", "axis": null}, "y": {"field": "f", "type": "quantitative", "axis": null}}},
{"data": {"name": "lines"}, "mark": {"type": "rule", "color": "#44bb44", "strokeWidth": 1.2, "strokeDash": [2, 2]},
 "encoding": {"x": {"field": "w", "type": "quantitative", "axis": null}, "y": {"datum": 150, "type": "quantitative", "axis": null}, "y2": {"datum": -163}}},
{"data": {"name": "lines"}, "mark": {"type": "text", "color": "#1f9e1f", "font": "Liberation Sans", "fontSize": 11, "angle": 315, "align": "center", "baseline": "middle"},
 "encoding": {"x": {"field": "w", "type": "quantitative", "axis": null}, "y": {"datum": 167, "type": "quantitative", "axis": null}, "text": {"field": "label"}}},
{"data": {"values": [{"t": "Remarks: [OII]d,Hb,[OIII]"}]}, "mark": {"type": "text", "color": "black", "font": "Liberation Sans", "fontSize": 11.5, "align": "left", "baseline": "middle"},
 "encoding": {"x": {"datum": 5090, "type": "quantitative", "axis": null}, "y": {"datum": 187, "type": "quantitative", "axis": null}, "text": {"field": "t"}}},
{"data": {"values": [{"t": "spec1d.m18bd.008.serendip (z = 0.732, Qf = 3)"}]}, "mark": {"type": "text", "color": "black", "font": "Liberation Sans", "fontSize": 11.5, "align": "left", "baseline": "middle"},
 "encoding": {"x": {"datum": 6670, "type": "quantitative", "axis": null}, "y": {"datum": -166, "type": "quantitative", "axis": null}, "text": {"field": "t"}}}
]
}
